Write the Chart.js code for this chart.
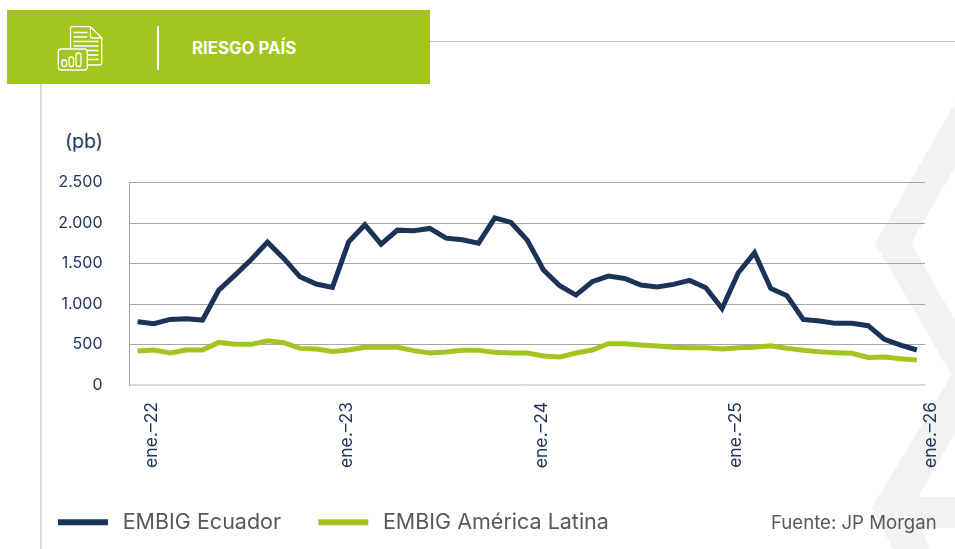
<!DOCTYPE html>
<html lang="es">
<head>
<meta charset="utf-8">
<title>Riesgo País</title>
<script src="https://cdn.jsdelivr.net/npm/chart.js@4"></script>
<style>
html,body{margin:0;padding:0;background:#fff;width:955px;height:549px;overflow:hidden;font-family:Inter,"Open Sans",sans-serif}
#bg,#chartWrap{position:absolute;left:0;top:0;width:955px;height:549px}
#band{position:absolute;left:7px;top:10px;width:423px;height:74px;background:#a2c61f}
#title{position:absolute;left:192px;top:39px;color:#fff;font-weight:700;font-size:16.8px;line-height:18px;white-space:nowrap}
#unit{position:absolute;left:65px;top:131px;color:#24365f;font-size:19.5px;line-height:20px}
#src{position:absolute;left:771px;top:512px;color:#595959;font-size:18.6px;line-height:20px;white-space:nowrap}
</style>
</head>
<body>
<svg id="bg" viewBox="0 0 955 549">
  <polygon fill="#f2f2f2" points="955,103 875,243 951.7,375 871.7,508 893,549 929,549 922,528 955,528 955,497 918,497 955,433 955,320 911,243 955,167"/>
  <line x1="430" y1="41.5" x2="955" y2="41.5" stroke="#bfbfbf" stroke-width="1"/>
  <line x1="41" y1="84" x2="41" y2="549" stroke="#c4c4c4" stroke-width="1.2"/>
</svg>
<div id="band"></div>
<svg id="icon" style="position:absolute;left:0;top:0" width="200" height="90" viewBox="0 0 200 90" fill="none" stroke="#fff" stroke-width="1.3" stroke-linejoin="round" stroke-linecap="round">
  <path d="M70.5 48V28.5q0-1.8 1.8-1.8H90.5L101.7 38V63q0 2-2 2H87.5"/>
  <path d="M90.5 27V36q0 2 2 2H101.7"/>
  <path d="M74 32.500H87M74 37H87M74 41.500H98M74 46H98M88 50.500H98M88 55H98M88 59.500H98"/>
  <rect x="58.300" y="49" width="29" height="21" rx="3"/>
  <rect x="62" y="60" width="4.500" height="6.500" rx="2"/>
  <rect x="69" y="57" width="4.500" height="9.500" rx="2"/>
  <rect x="76" y="53" width="5" height="13.500" rx="2.200"/>
  <line x1="158" y1="27" x2="158" y2="69" stroke-width="2"/>
</svg>
<div id="title">RIESGO PAÍS</div>
<div id="unit">(pb)</div>
<div id="chartWrap"><canvas id="c" width="955" height="549"></canvas></div>
<div id="src">Fuente: JP Morgan</div>
<script>
const categories = [
"ene.–22","feb.–22","mar.–22","abr.–22","may.–22","jun.–22","jul.–22","ago.–22","sep.–22","oct.–22","nov.–22","dic.–22",
"ene.–23","feb.–23","mar.–23","abr.–23","may.–23","jun.–23","jul.–23","ago.–23","sep.–23","oct.–23","nov.–23","dic.–23",
"ene.–24","feb.–24","mar.–24","abr.–24","may.–24","jun.–24","jul.–24","ago.–24","sep.–24","oct.–24","nov.–24","dic.–24",
"ene.–25","feb.–25","mar.–25","abr.–25","may.–25","jun.–25","jul.–25","ago.–25","sep.–25","oct.–25","nov.–25","dic.–25",
"ene.–26"];
const embigEcuador = [
781,757,810,818,802,1172,1357,1550,1764,1563,1336,1246,
1205,1768,1978,1739,1912,1904,1933,1813,1793,1752,2064,2007,
1789,1419,1225,1110,1275,1345,1316,1234,1209,1242,1291,1200,
945,1386,1632,1192,1102,810,789,761,761,732,563,493,
432];
const embigAmericaLatina = [
419,432,395,432,432,526,502,502,547,522,452,444,
415,432,465,465,465,424,395,407,428,428,403,395,
395,358,345,395,432,510,510,493,481,465,460,460,
444,460,465,485,452,428,411,399,391,341,345,325,
308];
const seriesNames = ["EMBIG Ecuador","EMBIG América Latina"];
const seriesColors = ["#1b3358","#a2c61f"];
const yTicks = [0,500,1000,1500,2000,2500];
const tickColor = "#24365f";

Chart.defaults.font.family = 'Inter, "Open Sans", sans-serif';

new Chart(document.getElementById("c"), {
  type: "line",
  data: {
    labels: categories,
    datasets: [
      {label: seriesNames[0], data: embigEcuador, borderColor: seriesColors[0], backgroundColor: seriesColors[0]},
      {label: seriesNames[1], data: embigAmericaLatina, borderColor: seriesColors[1], backgroundColor: seriesColors[1]}
    ]
  },
  options: {
    responsive: false,
    animation: false,
    layout: {padding: {left: 45, right: 30, top: 182.5, bottom: 6}},
    elements: {
      line: {borderWidth: 5, tension: 0, borderJoinStyle: "miter", borderCapStyle: "butt"},
      point: {radius: 0, hoverRadius: 0}
    },
    plugins: {
      tooltip: {enabled: false},
      legend: {
        position: "bottom",
        align: "start",
        labels: {
          boxWidth: 50, boxHeight: 6, padding: 13, color: "#595959",
          font: {size: 21.5},
          generateLabels: c => Chart.defaults.plugins.legend.labels.generateLabels(c).map(l => ({...l, lineWidth: 0, text: "\u2009" + l.text + "    "}))
        }
      }
    },
    scales: {
      x: {
        type: "category",
        offset: true,
        grid: {display: false},
        border: {display: true, color: "#d9d9d9", width: 1.5},
        afterFit: s => { s.height = 113.5; },
        ticks: {
          autoSkip: false, minRotation: 90, maxRotation: 90, padding: 9, labelOffset: 14,
          color: tickColor, font: {size: 17.5},
          callback: function (v, i) { return i % 12 === 0 ? this.getLabelForValue(v) : ""; }
        }
      },
      y: {
        min: 0, max: 2500,
        afterFit: s => { s.width = 84.5; },
        afterBuildTicks: s => { s.ticks = yTicks.map(v => ({value: v})); },
        grid: {color: c => c.tick && c.tick.value === 0 ? "#d9d9d9" : "#a6a6a6", lineWidth: 1, drawTicks: false},
        border: {display: true, color: "#a6a6a6", width: 1},
        ticks: {
          padding: 27, color: tickColor, font: {size: 16},
          callback: v => String(v).replace(/\B(?=(\d{3})+$)/g, ".")
        }
      }
    }
  }
});
</script>
</body>
</html>
